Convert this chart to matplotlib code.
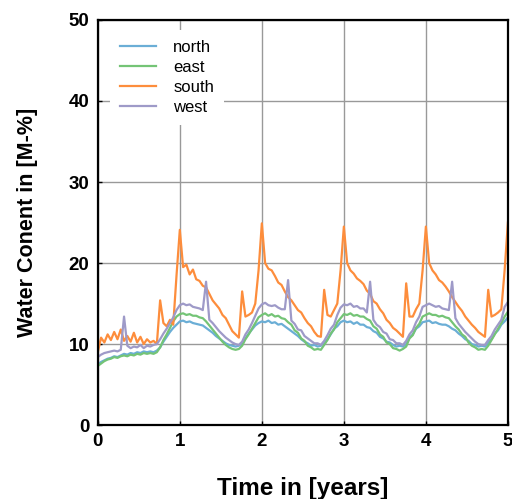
# water content time series, four facade orientations
import numpy as np
import matplotlib
matplotlib.use("Agg")
import matplotlib.pyplot as plt

plt.rcParams['font.family'] = ['Liberation Sans', 'DejaVu Sans']

# time in years, sampled every 0.04 years
time = np.linspace(0, 5, 126)

north = [7.5, 7.8, 8.0, 8.2, 8.3, 8.5, 8.4, 8.6, 8.8, 8.7, 8.9, 8.8, 9.0, 8.9, 9.1, 9.0, 9.1, 9.0, 9.2, 9.6, 10.3, 10.9, 11.5, 12.0, 12.4,
         12.8, 12.9, 12.7, 12.8, 12.6, 12.5, 12.4, 12.3, 12.0, 11.7, 11.4, 11.0, 10.7, 10.4, 10.1, 9.9, 9.8, 9.7, 9.8, 10.1, 10.7, 11.3, 11.8, 12.3, 12.6,
         12.8, 12.7, 12.9, 12.6, 12.7, 12.4, 12.5, 12.2, 11.9, 11.6, 11.3, 11.0, 10.6, 10.3, 10.1, 9.8, 9.9, 9.7, 9.8, 10.2, 10.6, 11.2, 11.9, 12.2, 12.7,
         12.9, 12.7, 12.8, 12.5, 12.7, 12.4, 12.4, 12.1, 12.0, 11.6, 11.4, 10.9, 10.7, 10.3, 10.2, 9.9, 9.7, 9.8, 9.7, 10.0, 10.8, 11.2, 11.9, 12.2, 12.7,
         12.8, 12.9, 12.6, 12.7, 12.5, 12.4, 12.4, 12.2, 11.9, 11.7, 11.3, 11.0, 10.6, 10.4, 10.0, 9.9, 9.7, 9.8, 9.7, 10.2, 10.6, 11.3, 11.7, 12.4, 12.8,
         13.3]

east = [7.3, 7.6, 7.9, 8.1, 8.2, 8.4, 8.3, 8.5, 8.6, 8.5, 8.7, 8.6, 8.8, 8.7, 8.9, 8.8, 8.9, 8.8, 9.0, 9.6, 10.5, 11.2, 12.0, 12.8, 13.4,
        13.7, 13.8, 13.6, 13.7, 13.5, 13.5, 13.3, 13.2, 12.8, 12.3, 11.8, 11.3, 10.8, 10.3, 9.9, 9.6, 9.4, 9.3, 9.4, 9.8, 10.6, 11.2, 11.9, 12.6, 13.3,
        13.6, 13.8, 13.5, 13.7, 13.4, 13.5, 13.2, 13.1, 12.7, 12.4, 11.7, 11.4, 10.7, 10.4, 9.8, 9.6, 9.3, 9.4, 9.3, 9.9, 10.5, 11.3, 11.8, 12.7, 13.2,
        13.7, 13.6, 13.8, 13.5, 13.6, 13.4, 13.4, 13.1, 12.9, 12.2, 11.9, 11.2, 10.9, 10.2, 10.0, 9.5, 9.4, 9.2, 9.4, 9.7, 10.7, 11.1, 12.0, 12.5, 13.4,
        13.6, 13.8, 13.6, 13.6, 13.4, 13.5, 13.3, 13.2, 12.7, 12.2, 11.8, 11.2, 10.9, 10.2, 9.8, 9.6, 9.3, 9.4, 9.3, 9.8, 10.5, 11.2, 11.9, 12.6, 13.4,
        14.0]

south = [9.0, 10.8, 10.2, 11.2, 10.5, 11.5, 10.6, 11.8, 10.4, 11.0, 10.3, 11.4, 10.2, 10.9, 10.0, 10.6, 10.2, 10.4, 10.0, 15.4, 12.6, 12.2, 13.0, 12.4, 18.5,
         24.1, 19.5, 19.8, 18.6, 19.2, 18.0, 17.8, 17.2, 17.0, 16.2, 15.4, 14.9, 14.4, 13.6, 13.2, 12.4, 11.6, 11.2, 10.8, 16.5, 13.4, 13.6, 13.9, 15.0, 19.1,
         24.9, 20.0, 19.3, 19.1, 18.4, 17.6, 17.3, 16.5, 15.8, 15.4, 14.8, 14.2, 13.9, 13.2, 12.6, 12.2, 11.5, 11.0, 10.9, 16.7, 13.6, 13.4, 14.2, 15.0, 19.1,
         24.5, 20.0, 19.1, 18.7, 18.1, 17.8, 17.4, 16.6, 16.2, 15.3, 15.0, 14.3, 13.8, 13.0, 12.6, 12.0, 11.7, 11.3, 10.9, 17.5, 13.4, 13.4, 14.3, 15.0, 19.1,
         24.5, 20.0, 19.1, 18.6, 17.9, 17.6, 17.1, 16.5, 15.8, 15.2, 14.6, 14.1, 13.4, 12.9, 12.4, 12.0, 11.5, 11.2, 10.9, 16.7, 13.4, 13.6, 13.9, 14.3, 19.1,
         25.0]

west = [8.4, 8.7, 8.9, 9.0, 9.1, 9.2, 9.1, 9.3, 13.4, 9.8, 9.5, 9.7, 9.6, 9.9, 9.5, 9.8, 9.7, 9.9, 10.0, 10.6, 11.3, 11.9, 12.6, 13.3, 14.2,
        14.8, 15.0, 14.8, 14.9, 14.6, 14.5, 14.4, 14.2, 17.7, 13.0, 12.6, 12.1, 11.6, 11.2, 10.8, 10.5, 10.2, 10.0, 9.9, 10.3, 11.2, 11.8, 12.6, 13.5, 14.4,
        14.9, 15.1, 14.8, 14.7, 14.8, 14.5, 14.3, 14.3, 17.9, 12.9, 12.5, 11.8, 11.7, 11.0, 10.7, 10.4, 10.1, 10.1, 9.9, 10.4, 11.1, 11.9, 12.4, 13.6, 14.5,
        14.9, 14.8, 15.0, 14.6, 14.7, 14.4, 14.4, 13.9, 17.7, 13.0, 12.4, 12.1, 11.5, 11.3, 10.6, 10.5, 10.1, 10.1, 9.9, 10.4, 11.2, 11.7, 12.7, 13.4, 14.6,
        14.8, 15.0, 14.8, 14.6, 14.7, 14.4, 14.3, 14.2, 17.7, 13.2, 12.5, 12.0, 11.5, 11.1, 10.7, 10.3, 10.0, 9.9, 9.9, 10.5, 11.0, 11.8, 12.4, 13.0, 14.6,
        15.2]

names = ['north', 'east', 'south', 'west']
colors = ['#6baed6', '#74c476', '#fd8d3c', '#9e9ac8']

fig = plt.figure(figsize=(5.12, 4.99), dpi=100)
ax = fig.add_axes([0.191, 0.148, 0.801, 0.812])

for y, name, c in zip([north, east, south, west], names, colors):
    ax.plot(time, y, color=c, lw=1.6, label=name)

ax.set_xlim(0, 5)
ax.set_ylim(0, 50)
ax.set_xticks(range(0, 6))
ax.set_yticks(range(0, 51, 10))
ax.grid(True, color='#999999', lw=1.0)
ax.set_axisbelow(True)
ax.tick_params(direction='in', length=3, width=1, labelsize=13.5, pad=6)
for lab in ax.get_xticklabels() + ax.get_yticklabels():
    lab.set_fontweight('bold')
for s in ax.spines.values():
    s.set_linewidth(1.6)
    s.set_color('black')

ax.set_xlabel('Time in [years]', fontsize=17.5, fontweight='bold', labelpad=19)
ax.set_ylabel('Water Conent in [M-%]', fontsize=15.5, fontweight='bold', labelpad=22)

leg = ax.legend(loc='upper left', bbox_to_anchor=(0.017, 0.987), fontsize=12,
                frameon=True, facecolor='white', edgecolor='none', framealpha=1,
                handlelength=2.2, handletextpad=1.0, labelspacing=0.3, borderpad=0.6,
                borderaxespad=0.3)

fig.savefig('out.png', dpi=100)
